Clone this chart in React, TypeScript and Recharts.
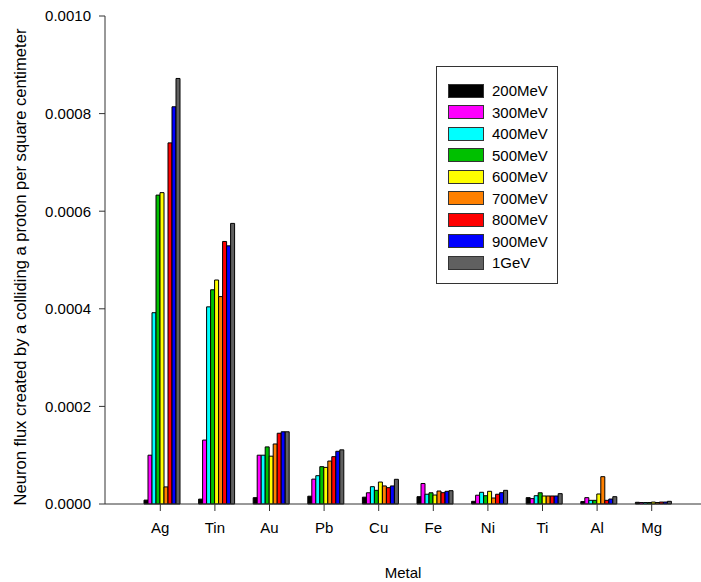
import { Bar, BarChart, XAxis, YAxis } from "recharts"

const metals = ["Ag", "Tin", "Au", "Pb", "Cu", "Fe", "Ni", "Ti", "Al", "Mg"]

const mev200 = [0.000008, 0.00001, 0.000013, 0.000016, 0.000014, 0.000015, 0.0000055, 0.000013, 0.000005, 0.0000035]
const mev300 = [0.0001, 0.000131, 0.0001, 0.000051, 0.000023, 0.000042, 0.000018, 0.000011, 0.000013, 0.000003]
const mev400 = [0.000392, 0.000404, 0.0001, 0.000058, 0.0000355, 0.00002, 0.000024, 0.000017, 0.0000075, 0.000003]
const mev500 = [0.000633, 0.000439, 0.000117, 0.0000765, 0.000028, 0.000023, 0.000017, 0.000023, 0.0000075, 0.000003]
const mev600 = [0.000638, 0.000459, 0.000098, 0.000075, 0.000045, 0.0000184, 0.000026, 0.0000164, 0.0000205, 0.000004]
const mev700 = [0.000035, 0.000425, 0.000123, 0.000088, 0.000037, 0.0000266, 0.0000123, 0.0000164, 0.000056, 0.000003]
const mev800 = [0.00074, 0.000538, 0.000145, 0.000097, 0.0000335, 0.0000232, 0.00002, 0.0000164, 0.0000075, 0.000004]
const mev900 = [0.000814, 0.000529, 0.000148, 0.000108, 0.000037, 0.000026, 0.0000232, 0.0000164, 0.0000102, 0.000004]
const gev1 = [0.000872, 0.000575, 0.000148, 0.000111, 0.0000506, 0.0000273, 0.000028, 0.0000212, 0.000015, 0.0000055]

const yTicks = [0, 0.0002, 0.0004, 0.0006, 0.0008, 0.001]

const series = [
  { key: "200MeV", values: mev200, color: "#000000" },
  { key: "300MeV", values: mev300, color: "#ff00ff" },
  { key: "400MeV", values: mev400, color: "#00ffff" },
  { key: "500MeV", values: mev500, color: "#00c000" },
  { key: "600MeV", values: mev600, color: "#ffff00" },
  { key: "700MeV", values: mev700, color: "#ff8000" },
  { key: "800MeV", values: mev800, color: "#ff0000" },
  { key: "900MeV", values: mev900, color: "#0000ff" },
  { key: "1GeV", values: gev1, color: "#606060" },
]

const data = metals.map((name, i) => {
  const row: Record<string, string | number> = { name }
  series.forEach((s) => {
    row[s.key] = s.values[i]
  })
  return row
})

const font = "Arial, 'Liberation Sans', sans-serif"

// legend drawn as an overlay so it doesn't eat into the plot area
function LegendBox() {
  return (
    <div
      style={{
        position: "absolute",
        left: 436,
        top: 66,
        border: "1px solid #333",
        width: 122,
        height: 218,
        boxSizing: "border-box",
        paddingTop: 13,
        paddingLeft: 11,
        fontFamily: font,
        fontSize: 15,
        color: "#000",
        background: "#fff",
      }}
    >
      {series.map((s) => (
        <div key={s.key} style={{ display: "flex", alignItems: "center", height: 21.5 }}>
          <div
            style={{
              width: 36,
              height: 14,
              background: s.color,
              border: "1px solid #333",
              boxSizing: "border-box",
              marginRight: 8,
            }}
          />
          <span style={{ lineHeight: "15px" }}>{s.key}</span>
        </div>
      ))}
    </div>
  )
}

export default function App() {
  return (
    <div style={{ position: "absolute", left: 0, top: 0, width: 701, height: 582, background: "#fff" }}>
      <BarChart
        width={701}
        height={582}
        data={data}
        margin={{ top: 16, right: 0, left: 0, bottom: 0 }}
        barCategoryGap={11}
        barGap={0}
      >
        <XAxis
          dataKey="name"
          height={78}
          padding={{ left: 28, right: 22 }}
          stroke="#333"
          tickSize={7}
          tickMargin={11}
          tick={{ fill: "#000", fontSize: 15, fontFamily: font }}
          label={{ value: "Metal", position: "insideBottom", offset: 4, fill: "#000", fontSize: 15, fontFamily: font }}
        />
        <YAxis
          width={105}
          domain={[0, 0.001]}
          ticks={yTicks}
          stroke="#333"
          tickSize={6}
          tickMargin={8}
          tick={{ fill: "#000", fontSize: 15, fontFamily: font }}
          tickFormatter={(v: number) => v.toFixed(4)}
          label={{
            content: () => (
              <text
                x={20}
                y={267}
                transform="rotate(-90 20 267)"
                textAnchor="middle"
                dominantBaseline="central"
                fill="#000"
                fontSize={16.6}
                fontFamily={font}
              >
                Neuron flux created by a colliding a proton per square centimeter
              </text>
            ),
          }}
        />
        {series.map((s) => (
          <Bar
            key={s.key}
            dataKey={s.key}
            fill={s.color}
            stroke="#000"
            strokeWidth={1}
            isAnimationActive={false}
          />
        ))}
      </BarChart>
      <LegendBox />
    </div>
  )
}
